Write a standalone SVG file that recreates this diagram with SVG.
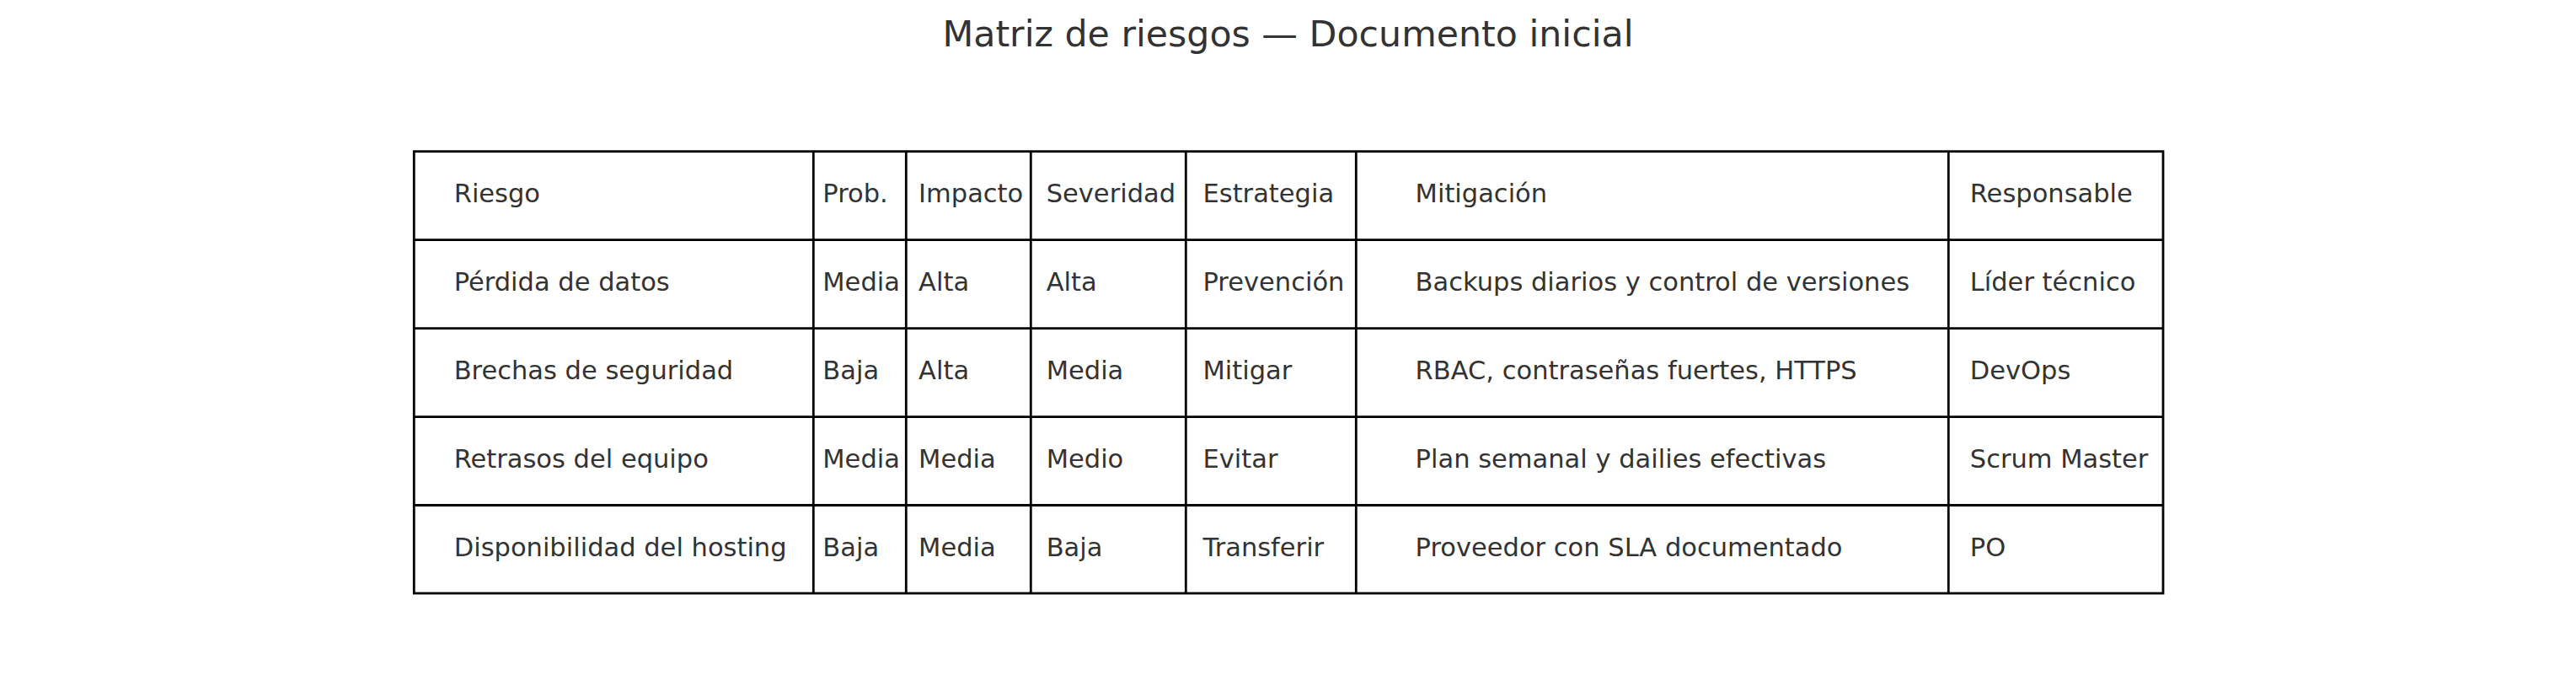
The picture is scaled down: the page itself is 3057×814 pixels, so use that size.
<svg xmlns="http://www.w3.org/2000/svg" width="3057" height="814" viewBox="0 0 3057 814">
<style>
  .t { font-family: "DejaVu Sans", "Liberation Sans", sans-serif; font-size: 30.5px; fill: #333333; }
  .title { font-family: "DejaVu Sans", "Liberation Sans", sans-serif; font-size: 42.7px; fill: #333333; }
  .grid { stroke: #000000; stroke-width: 2.8; fill: none; }
</style>
<rect x="0" y="0" width="3057" height="814" fill="#ffffff"/>
<text id="title" class="title" x="1528.5" y="55" text-anchor="middle">Matriz de riesgos — Documento inicial</text>
<g id="grid" class="grid">
  <rect x="491.3" y="179.7" width="2075.7" height="524.3"/>
  <line x1="491.3" y1="284.6" x2="2567" y2="284.6"/>
  <line x1="491.3" y1="389.6" x2="2567" y2="389.6"/>
  <line x1="491.3" y1="494.6" x2="2567" y2="494.6"/>
  <line x1="491.3" y1="599.5" x2="2567" y2="599.5"/>
  <line x1="965.3" y1="179.7" x2="965.3" y2="704"/>
  <line x1="1075.3" y1="179.7" x2="1075.3" y2="704"/>
  <line x1="1223.3" y1="179.7" x2="1223.3" y2="704"/>
  <line x1="1407.3" y1="179.7" x2="1407.3" y2="704"/>
  <line x1="1609.3" y1="179.7" x2="1609.3" y2="704"/>
  <line x1="2312.3" y1="179.7" x2="2312.3" y2="704"/>
</g>
<g id="row-header" class="t">
  <text x="538.7" y="240.2">Riesgo</text>
  <text x="976.3" y="240.2">Prob.</text>
  <text x="1090.1" y="240.2">Impacto</text>
  <text x="1241.7" y="240.2">Severidad</text>
  <text x="1427.5" y="240.2">Estrategia</text>
  <text x="1679.6" y="240.2">Mitigación</text>
  <text x="2337.8" y="240.2">Responsable</text>
</g>
<g id="row-1" class="t">
  <text x="538.7" y="345.1">Pérdida de datos</text>
  <text x="976.3" y="345.1">Media</text>
  <text x="1090.1" y="345.1">Alta</text>
  <text x="1241.7" y="345.1">Alta</text>
  <text x="1427.5" y="345.1">Prevención</text>
  <text x="1679.6" y="345.1">Backups diarios y control de versiones</text>
  <text x="2337.8" y="345.1">Líder técnico</text>
</g>
<g id="row-2" class="t">
  <text x="538.7" y="450.1">Brechas de seguridad</text>
  <text x="976.3" y="450.1">Baja</text>
  <text x="1090.1" y="450.1">Alta</text>
  <text x="1241.7" y="450.1">Media</text>
  <text x="1427.5" y="450.1">Mitigar</text>
  <text x="1679.6" y="450.1">RBAC, contraseñas fuertes, HTTPS</text>
  <text x="2337.8" y="450.1">DevOps</text>
</g>
<g id="row-3" class="t">
  <text x="538.7" y="555">Retrasos del equipo</text>
  <text x="976.3" y="555">Media</text>
  <text x="1090.1" y="555">Media</text>
  <text x="1241.7" y="555">Medio</text>
  <text x="1427.5" y="555">Evitar</text>
  <text x="1679.6" y="555">Plan semanal y dailies efectivas</text>
  <text x="2337.8" y="555">Scrum Master</text>
</g>
<g id="row-4" class="t">
  <text x="538.7" y="659.8">Disponibilidad del hosting</text>
  <text x="976.3" y="659.8">Baja</text>
  <text x="1090.1" y="659.8">Media</text>
  <text x="1241.7" y="659.8">Baja</text>
  <text x="1427.5" y="659.8">Transferir</text>
  <text x="1679.6" y="659.8">Proveedor con SLA documentado</text>
  <text x="2337.8" y="659.8">PO</text>
</g>
</svg>
